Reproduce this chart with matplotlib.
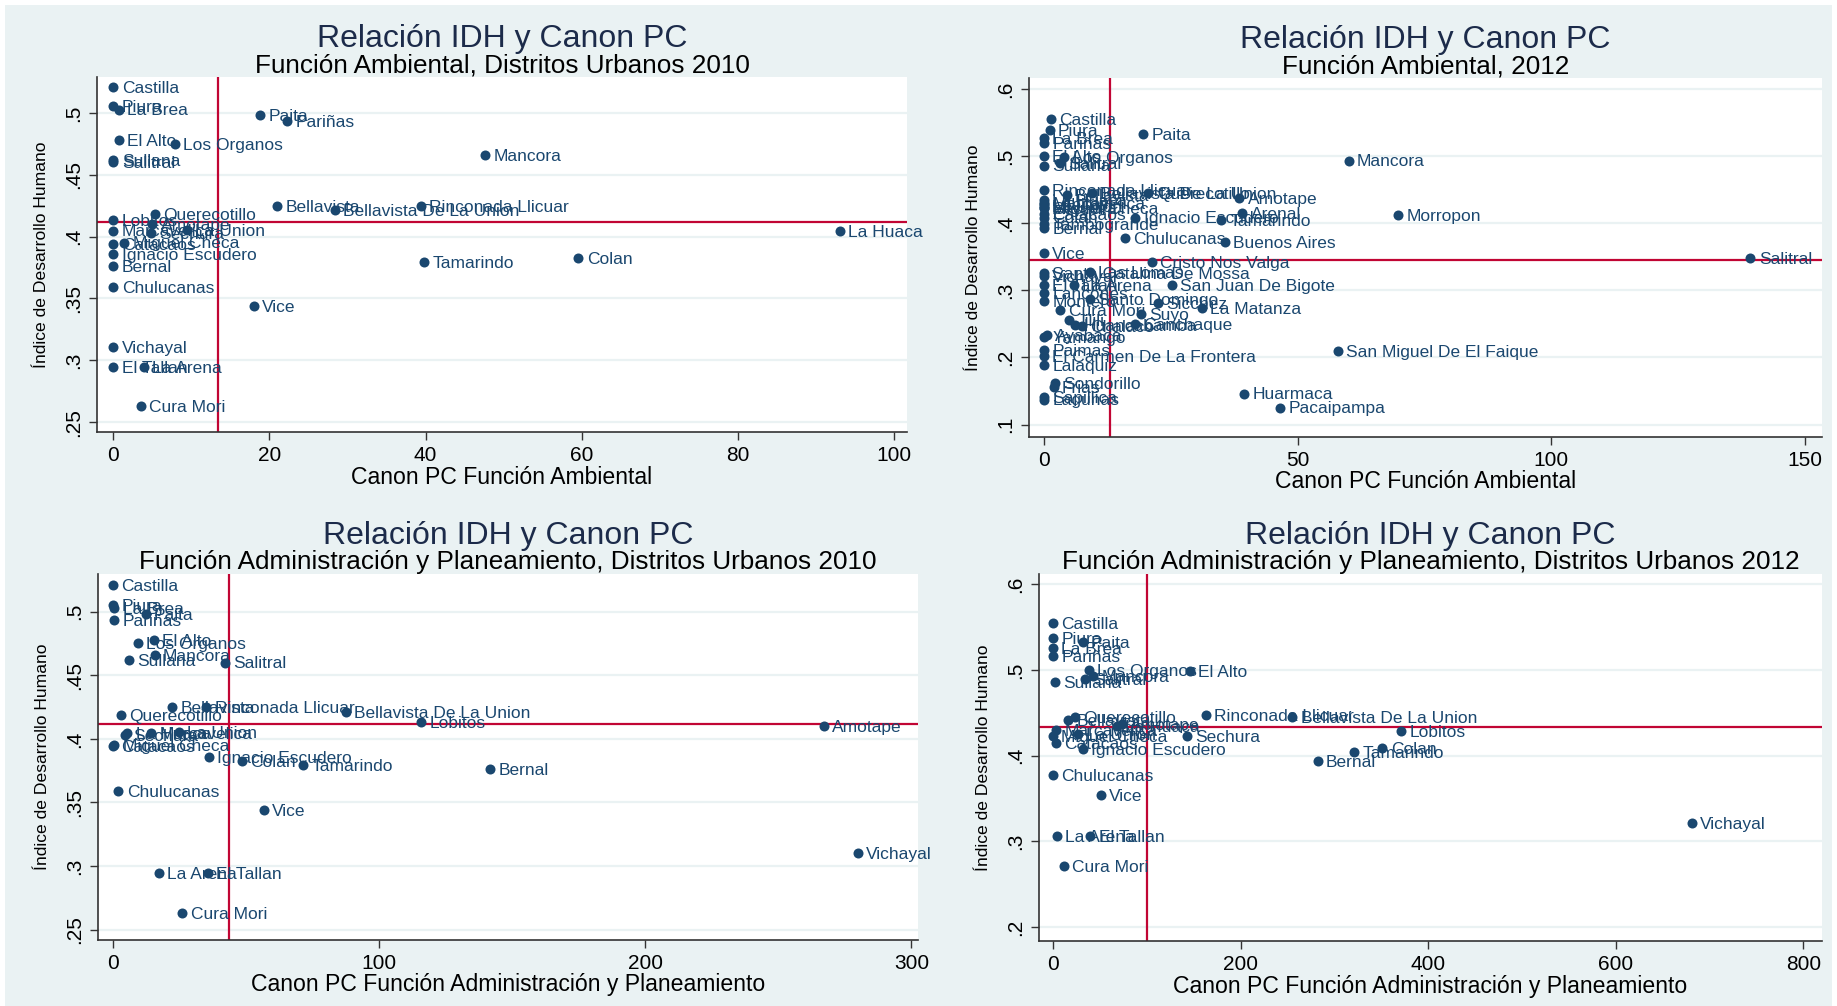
import matplotlib.pyplot as plt
from matplotlib.patches import Rectangle

plt.rcParams['font.family'] = ['Liberation Sans', 'DejaVu Sans']

NAVY = '#1a476f'
RED = '#c10534'
BG = '#eaf2f3'
W, H = 1837, 1006

# --- distritos urbanos 2010 (IDH comun a paneles 1 y 3) ---
urb10_names = ['Castilla', 'Piura', 'La Brea', 'Paita', 'Pariñas', 'El Alto', 'Los Organos',
               'Mancora', 'Sullana', 'Salitral', 'Bellavista', 'Rinconada Llicuar',
               'Bellavista De La Union', 'Querecotillo', 'Lobitos', 'Amotape', 'La Huaca',
               'La Union', 'Marcavelica', 'Sechura', 'Miguel Checa', 'Catacaos',
               'Ignacio Escudero', 'Colan', 'Tamarindo', 'Bernal', 'Chulucanas', 'Vice',
               'Vichayal', 'El Tallan', 'La Arena', 'Cura Mori']
idh10 = [.5207, .5053, .5027, .498, .4932, .4778, .4751, .466, .4622, .460, .4249, .4247,
         .4211, .4184, .413, .4103, .4047, .4054, .4049, .4028, .3952, .3941, .3857, .3827,
         .3795, .3763, .359, .3438, .3104, .2947, .2947, .2628]
amb10 = [0, 0, 0.7, 18.8, 22.3, 0.7, 7.9, 47.6, 0, 0, 21.0, 39.4, 28.4, 5.3, 0, 5.0, 93.1,
         9.4, 0, 4.8, 1.4, 0, 0, 59.6, 39.8, 0, 0, 18.0, 0, 0, 3.9, 3.5]
adm10 = [0, 0, 0.5, 12.2, 0.5, 15.2, 9.3, 15.6, 5.9, 42.1, 22.2, 35.0, 87.4, 3.0, 115.7,
         267.2, 5.3, 24.7, 14.3, 4.3, 0.5, 0, 36.0, 48.5, 71.3, 141.7, 2.0, 56.7, 279.9,
         35.6, 17.2, 26.0]

# --- todos los distritos 2012, funcion ambiental ---
all12_names = ['Castilla', 'Piura', 'La Brea', 'Pariñas', 'Paita', 'El Alto', 'Los Organos',
               'Salitral', 'Sullana', 'Mancora', 'Rinconada Llicuar', 'Bellavista',
               'Bellavista De La Union', 'Querecotillo', 'Amotape', 'La Huaca', 'Marcavelica',
               'Lobitos', 'La Union', 'Miguel Checa', 'Sechura', 'Catacaos', 'Colan',
               'Ignacio Escudero', 'Tamarindo', 'Bernal', 'Chulucanas', 'Vice', 'Vichayal',
               'La Arena', 'El Tallan', 'Cura Mori', 'Arenal', 'Morropon', 'Tambogrande',
               'Buenos Aires', 'Salitral', 'Cristo Nos Valga', 'Las Lomas',
               'Santa Catalina De Mossa', 'San Juan De Bigote', 'Lancones', 'Santo Domingo',
               'Montero', 'Sicchez', 'La Matanza', 'Suyo', 'Jilili', 'Canchaque',
               'Huancabamba', 'Chalaco', 'Ayabaca', 'Yamango', 'Paimas',
               'San Miguel De El Faique', 'El Carmen De La Frontera', 'Lalaquiz',
               'Sondorillo', 'Frias', 'Huarmaca', 'Sapillica', 'Lagunas', 'Pacaipampa']
amb12 = [1.3, 1.1, 0, 0.1, 19.5, 0, 4.0, 3.1, 0, 60.1, 0, 4.5, 9.5, 20.6, 38.5, 0, 0, 0, 0,
         0, 0, 0, 0, 18.0, 34.9, 0, 16.0, 0, 0, 5.9, 0, 3.2, 39.1, 69.9, 0, 35.7, 139.3, 21.3,
         9.1, 0, 25.2, 0, 9.0, 0, 22.5, 31.1, 19.2, 4.9, 18.0, 6.2, 7.5, 0.6, 0, 0, 57.9, 0,
         0, 2.2, 1.9, 39.5, 0, 0, 46.6]
idh12_all = [.5552, .5382, .5269, .5194, .5333, .5004, .4985, .4896, .486, .4934, .449, .4415,
             .4453, .4453, .4373, .4345, .4298, .4283, .4252, .4232, .4228, .4143, .4085,
             .4084, .405, .3925, .3776, .3552, .3218, .3079, .3079, .2706, .4158, .4124, .399,
             .3716, .3487, .3418, .3278, .326, .3079, .2965, .2866, .2845, .2806, .273, .2646,
             .2557, .2497, .2482, .247, .2333, .2298, .2109, .2094, .2019, .1885, .1621, .1561,
             .1463, .1412, .1373, .1254]

# --- distritos urbanos 2012, administracion y planeamiento ---
urb12_names = ['Castilla', 'Piura', 'Paita', 'La Brea', 'Pariñas', 'Los Organos', 'El Alto',
               'Mancora', 'Salitral', 'Sullana', 'Rinconada Llicuar', 'Bellavista De La Union',
               'Querecotillo', 'Bellavista', 'Amotape', 'La Huaca', 'Marcavelica', 'Lobitos',
               'La Union', 'Miguel Checa', 'Sechura', 'Catacaos', 'Colan', 'Ignacio Escudero',
               'Tamarindo', 'Bernal', 'Chulucanas', 'Vice', 'Vichayal', 'La Arena',
               'El Tallan', 'Cura Mori']
adm12 = [0, 0, 31.4, 0, 0, 38.4, 145.9, 42.7, 33.8, 1.8, 163, 255.1, 23.2, 16, 73, 68, 3.6,
         371, 26.7, 0, 143, 2.9, 351.2, 32, 321.3, 282, 0, 50.6, 681, 4.3, 39.9, 11.4]
idh12 = [.5542, .5367, .5328, .525, .5161, .4998, .499, .4928, .4889, .4861, .4473, .4453,
         .4453, .4415, .4368, .4345, .4298, .4283, .4252, .4232, .4228, .4143, .4085, .4077,
         .4046, .3933, .3774, .3541, .3218, .3067, .3067, .2713]


def fmt_y(v):
    s = f'{v:g}'
    return s[1:] if s.startswith('0') else s


def panel(box, names, xs, ys, vline, hline, xlim, ylim, xticks, yticks,
          title, subtitle, xlabel):
    x0, y0, x1, y1 = box  # pixel coords (left, top, right, bottom)
    ax = fig.add_axes([x0 / W, 1 - y1 / H, (x1 - x0) / W, (y1 - y0) / H])
    ax.set_zorder(2)
    ax.set_facecolor('white')
    for yt in yticks:
        ax.axhline(yt, color=BG, lw=1.6, zorder=0)
    ax.axvline(vline, color=RED, lw=1.6, zorder=1)
    ax.axhline(hline, color=RED, lw=1.6, zorder=1)
    ax.scatter(xs, ys, s=52, color=NAVY, zorder=3, linewidths=0)
    for n, x, y in zip(names, xs, ys):
        ax.annotate(n, (x, y), xytext=(6, -1), textcoords='offset points',
                    va='center', ha='left', fontsize=12.5, color=NAVY,
                    annotation_clip=False, zorder=4)
    ax.set_xlim(*xlim)
    ax.set_ylim(*ylim)
    ax.set_xticks(xticks)
    ax.set_yticks(yticks)
    ax.set_yticklabels([fmt_y(v) for v in yticks], rotation=90, va='center')
    ax.tick_params(labelsize=15, length=6, width=1, color='#333333', pad=4)
    for sp in ['top', 'right']:
        ax.spines[sp].set_visible(False)
    for sp in ['left', 'bottom']:
        ax.spines[sp].set_color('#333333')
        ax.spines[sp].set_linewidth(1.2)
    cx = (x0 + x1) / 2
    fig.text(cx / W, 1 - (y0 - 38) / H, title, ha='center', va='center',
             fontsize=23, color='#1c2b4a')
    fig.text(cx / W, 1 - (y0 - 12) / H, subtitle, ha='center', va='center',
             fontsize=18.8, color='black')
    fig.text(cx / W, 1 - (y1 + 45) / H, xlabel, ha='center', va='center',
             fontsize=16.6, color='black')
    fig.text((x0 - 55) / W, 1 - (y0 + y1) / 2 / H, 'Índice de Desarrollo Humano',
             rotation=90, ha='center', va='center', fontsize=12.6, color='black')
    return ax


fig = plt.figure(figsize=(W / 100, H / 100), dpi=100, facecolor='white')
fig.patches.append(Rectangle((5 / W, 0), 1 - 10 / W, 1 - 5 / H, transform=fig.transFigure,
                             facecolor=BG, edgecolor='none', zorder=-10))

panel((97, 77, 907, 432), urb10_names, amb10, idh10, 13.4, .412,
      (-2.1, 101.7), (.242, .529), [0, 20, 40, 60, 80, 100],
      [.25, .3, .35, .4, .45, .5],
      'Relación IDH y Canon PC', 'Función Ambiental, Distritos Urbanos 2010',
      'Canon PC Función Ambiental')

panel((1029, 78, 1822, 437), all12_names, amb12, idh12_all, 13.1, .3452,
      (-2.95, 153.4), (.0815, .6164), [0, 50, 100, 150],
      [.1, .2, .3, .4, .5, .6],
      'Relación IDH y Canon PC', 'Función Ambiental, 2012',
      'Canon PC Función Ambiental')

panel((98, 574, 918, 940), urb10_names, adm10, idh10, 43.5, .412,
      (-5.7, 302.5), (.2418, .5297), [0, 100, 200, 300],
      [.25, .3, .35, .4, .45, .5],
      'Relación IDH y Canon PC',
      'Función Administración y Planeamiento, Distritos Urbanos 2010',
      'Canon PC Función Administración y Planeamiento')

panel((1039, 574, 1822, 941), urb12_names, adm12, idh12, 100.3, .4337,
      (-15, 820), (.184, .6117), [0, 200, 400, 600, 800],
      [.2, .3, .4, .5, .6],
      'Relación IDH y Canon PC',
      'Función Administración y Planeamiento, Distritos Urbanos 2012',
      'Canon PC Función Administración y Planeamiento')

fig.savefig('out.png', dpi=100, facecolor=fig.get_facecolor())
